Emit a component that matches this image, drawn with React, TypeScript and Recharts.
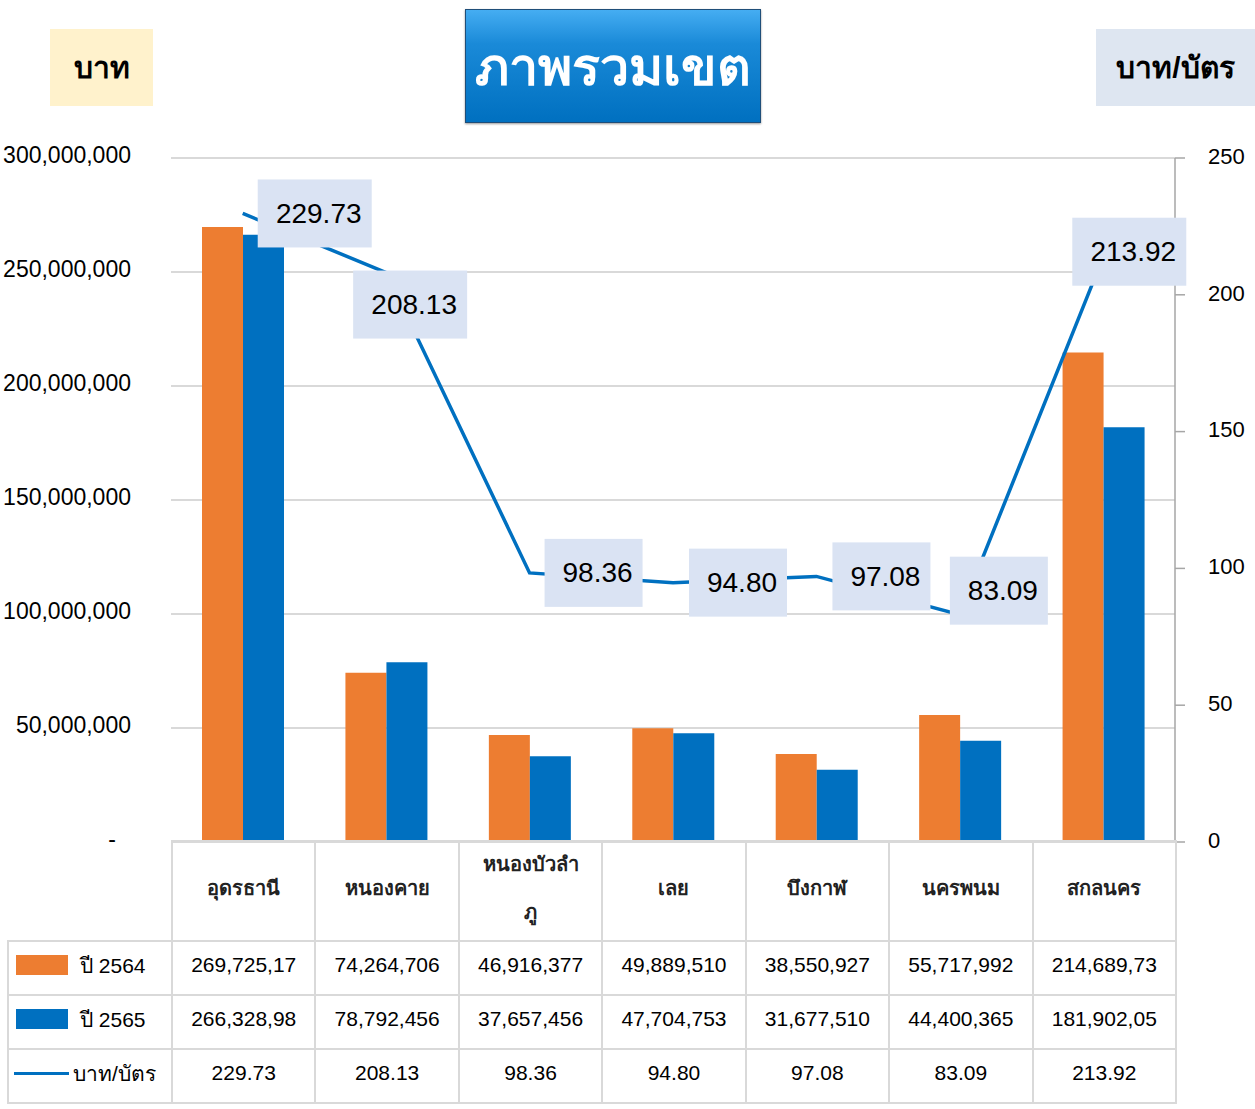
import React from "react";
import { ComposedChart, Bar, Line, YAxis, XAxis, CartesianGrid, LabelList } from "recharts";

// data
const districts = ["อุดรธานี", "หนองคาย", "หนองบัวลำภู", "เลย", "บึงกาฬ", "นครพนม", "สกลนคร"];
const amount2564 = [269725170, 74264706, 46916377, 49889510, 38550927, 55717992, 214689730];
const amount2565 = [266328980, 78792456, 37657456, 47704753, 31677510, 44400365, 181902050];
const bahtPerCard = [229.73, 208.13, 98.36, 94.8, 97.08, 83.09, 213.92];
const leftTicks = [0, 50000000, 100000000, 150000000, 200000000, 250000000, 300000000];
const rightTicks = [0, 50, 100, 150, 200, 250];
const seriesNames = ["ปี 2564", "ปี 2565", "บาท/บัตร"];

const ORANGE = "#ED7D31";
const BLUE = "#0070C0";
const GRID = "#d9d9d9";
const FONT = "'Liberation Sans', 'Noto Sans', Arial, sans-serif";

// where each value box sits relative to its point (dx, dy)
const LABEL_OFFSETS = [
  [72, 0],
  [24, 32],
  [64, 0],
  [65, 0],
  [65, 0],
  [39, -24],
  [26, -5],
];

const chartData = districts.map((name, i) => ({
  name,
  a2564: amount2564[i],
  a2565: amount2565[i],
  perCard: bahtPerCard[i],
}));

function LeftTick(props: any) {
  const { x, y, payload } = props;
  const v = payload.value;
  return (
    <text x={v === 0 ? x - 15 : x} y={y - 3} textAnchor="end" dominantBaseline="central" fontSize={23} fill="#000" fontFamily={FONT}>
      {v === 0 ? "-" : v.toLocaleString("en-US")}
    </text>
  );
}

function PointLabel(props: any) {
  const { x, y, value, index } = props;
  const [dx, dy] = LABEL_OFFSETS[index] ?? [65, 0];
  const text = Number(value).toFixed(2);
  const w = text.length * 16 + 18;
  const h = 68;
  const cx = x + dx;
  const cy = y + dy;
  return (
    <g>
      <rect x={cx - w / 2} y={cy - h / 2} width={w} height={h} fill="#DAE3F3" />
      <text x={cx + 4} y={cy} textAnchor="middle" dominantBaseline="central" fontSize={28} fill="#000" fontFamily={FONT}>
        {text}
      </text>
    </g>
  );
}

const cellBorder = `2px solid ${GRID}`;

function splitName(name: string) {
  // the long name wraps in the original table
  return name.length > 9 ? [name.slice(0, 9), name.slice(9)] : [name];
}

function showAmount(v: number) {
  // cells in the original clip the long numbers
  return v.toLocaleString("en-US").slice(0, 10);
}

const lift: React.CSSProperties = { position: "relative", top: -3 };

function DataTable() {
  const td: React.CSSProperties = {
    border: cellBorder,
    textAlign: "center",
    fontSize: 21,
    padding: 0,
    height: 52,
    color: "#000",
  };
  const legendCell: React.CSSProperties = { ...td, textAlign: "left" };
  return (
    <table
      style={{
        position: "absolute",
        left: 7,
        top: 840,
        width: 1170,
        borderCollapse: "collapse",
        tableLayout: "fixed",
        fontFamily: FONT,
      }}
    >
      <colgroup>
        <col style={{ width: 164 }} />
        {districts.map((d) => (
          <col key={d} style={{ width: 143.43 }} />
        ))}
      </colgroup>
      <tbody>
        <tr>
          <td style={{ border: "none", height: 98, padding: 0 }} />
          {districts.map((d) => (
            <td
              key={d}
              style={{ ...td, height: 98, fontWeight: "bold", color: "#222", fontSize: 20, lineHeight: "48px" }}
            >
              {splitName(d).map((part) => (
                <div key={part} style={lift}>{part}</div>
              ))}
            </td>
          ))}
        </tr>
        <tr>
          <td style={legendCell}>
            <span style={{ ...lift, display: "inline-block", width: 52, height: 20, background: ORANGE, marginLeft: 7, marginRight: 12, verticalAlign: "middle" }} />
            <span style={{ ...lift, verticalAlign: "middle" }}>{seriesNames[0]}</span>
          </td>
          {amount2564.map((v, i) => (
            <td key={i} style={td}><span style={lift}>{showAmount(v)}</span></td>
          ))}
        </tr>
        <tr>
          <td style={legendCell}>
            <span style={{ ...lift, display: "inline-block", width: 52, height: 20, background: BLUE, marginLeft: 7, marginRight: 12, verticalAlign: "middle" }} />
            <span style={{ ...lift, verticalAlign: "middle" }}>{seriesNames[1]}</span>
          </td>
          {amount2565.map((v, i) => (
            <td key={i} style={td}><span style={lift}>{showAmount(v)}</span></td>
          ))}
        </tr>
        <tr>
          <td style={legendCell}>
            <span style={{ ...lift, display: "inline-block", width: 55, height: 3, background: BLUE, marginLeft: 5, marginRight: 4, verticalAlign: "middle" }} />
            <span style={{ ...lift, verticalAlign: "middle" }}>{seriesNames[2]}</span>
          </td>
          {bahtPerCard.map((v, i) => (
            <td key={i} style={td}><span style={lift}>{v.toFixed(2)}</span></td>
          ))}
        </tr>
      </tbody>
    </table>
  );
}

export default function App() {
  return (
    <div style={{ position: "absolute", left: 0, top: 0, width: 1255, height: 1109, background: "#fff", fontFamily: FONT, overflow: "hidden" }}>
      <ComposedChart
        width={1255}
        height={1109}
        data={chartData}
        margin={{ top: 158, right: 0, bottom: 267, left: 0 }}
        barGap={0}
      >
        <CartesianGrid yAxisId="left" vertical={false} stroke={GRID} strokeWidth={2} />
        <XAxis dataKey="name" hide />
        <YAxis
          yAxisId="left"
          width={171}
          domain={[0, 300000000]}
          ticks={leftTicks}
          axisLine={false}
          tickLine={false}
          tickSize={0}
          tickMargin={40}
          tick={<LeftTick />}
          interval={0}
        />
        <YAxis
          yAxisId="right"
          orientation="right"
          width={80}
          domain={[0, 250]}
          ticks={rightTicks}
          axisLine={{ stroke: "#a6a6a6", strokeWidth: 1.5 }}
          tickLine={{ stroke: "#a6a6a6", strokeWidth: 1.5 }}
          tickSize={10}
          tickMargin={23}
          tick={{ fill: "#000", fontSize: 22, fontFamily: FONT, textAnchor: "start", dy: -2 }}
          interval={0}
        />
        <Bar yAxisId="left" dataKey="a2564" name={seriesNames[0]} fill={ORANGE} barSize={41} isAnimationActive={false} />
        <Bar yAxisId="left" dataKey="a2565" name={seriesNames[1]} fill={BLUE} barSize={41} isAnimationActive={false} />
        <Line yAxisId="right" dataKey="perCard" name={seriesNames[2]} stroke={BLUE} strokeWidth={3.5} dot={false} isAnimationActive={false}>
          <LabelList dataKey="perCard" content={<PointLabel />} />
        </Line>
      </ComposedChart>

      <DataTable />

      <div
        style={{
          position: "absolute",
          left: 50,
          top: 29,
          width: 103,
          height: 77,
          background: "#FFF2CC",
          display: "flex",
          alignItems: "center",
          justifyContent: "center",
          fontSize: 30,
          fontWeight: "bold",
        }}
      >
        บาท
      </div>
      <div
        style={{
          position: "absolute",
          left: 465,
          top: 9,
          width: 294,
          height: 112,
          background: "linear-gradient(180deg, #45adf2 0%, #1a8ad8 30%, #0070C0 100%)",
          border: "1px solid #1f4e79",
          boxShadow: "0 1px 2px rgba(0,0,0,0.4)",
          display: "flex",
          alignItems: "center",
          justifyContent: "center",
          color: "#fff",
          fontSize: 52,
          fontWeight: "bold",
        }}
      >
        ภาพรวมเขต
      </div>
      <div
        style={{
          position: "absolute",
          left: 1096,
          top: 29,
          width: 159,
          height: 77,
          background: "#DEE6F1",
          display: "flex",
          alignItems: "center",
          justifyContent: "center",
          fontSize: 30,
          fontWeight: "bold",
          whiteSpace: "nowrap",
        }}
      >
        บาท/บัตร
      </div>
    </div>
  );
}
